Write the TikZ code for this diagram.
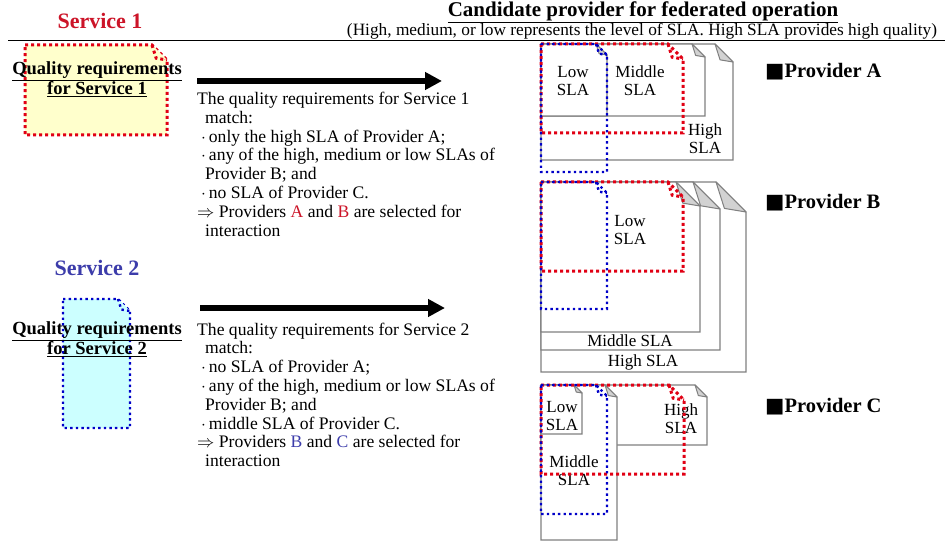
\documentclass[tikz,border=0pt]{standalone}
\usepackage{fontspec}
\setmainfont{Liberation Serif}
\newfontfamily\symfont{DejaVu Sans}
\usepackage{xcolor}
\usetikzlibrary{arrows.meta,positioning}

\definecolor{srvred}{RGB}{204,20,40}
\definecolor{dotred}{RGB}{225,0,20}
\definecolor{srvblue}{RGB}{60,60,170}
\definecolor{dotblue}{RGB}{0,0,200}
\definecolor{reqyellow}{RGB}{255,255,204}
\definecolor{reqcyan}{RGB}{204,255,255}
\definecolor{docgray}{RGB}{128,128,128}
\definecolor{flapgray}{RGB}{210,210,210}

% document with folded corner: left, top, right, bottom, fold
\newcommand{\slaDoc}[5]{%
  \draw[doc] (#1,#2) -- ({#3-#5},#2) -- (#3,{#2+#5}) -- (#3,#4) -- (#1,#4) -- cycle;
  \draw[flap] ({#3-#5},#2) -- ({#3-0.72*#5},{#2+0.88*#5}) -- (#3,{#2+#5}) -- cycle;
}
% requirement outline: style, left, top, width, height, fold
\newcommand{\reqBox}[6]{%
  \draw[#1] (#2,#3) -- ({#2+#4-#6},#3) -- ({#2+#4},{#3+#6}) -- ({#2+#4},{#3+#5}) -- (#2,{#3+#5}) -- cycle;
  \draw[#1] ({#2+#4-#6},#3) -- ({#2+#4-0.72*#6},{#3+0.88*#6}) -- ({#2+#4},{#3+#6});
}
\newcommand{\bul}{\hspace*{4pt}$\cdot$\,}

\begin{document}
\begin{tikzpicture}[x=1pt, y=-1pt,
    every node/.style={inner sep=0pt},
    doc/.style={draw=docgray, line width=1.2pt, fill=white},
    flap/.style={draw=docgray, line width=1pt, fill=flapgray, line join=round},
    reddots/.style={draw=dotred, line width=3pt, dash pattern=on 3pt off 3pt},
    bluedots/.style={draw=dotblue, line width=2.4pt, dash pattern=on 2.4pt off 3.2pt},
    bigarrow/.style={line width=5.5pt, -{Triangle[length=17pt,width=17pt]}},
    bodytext/.style={align=left, anchor=north west, font=\fontsize{17.6}{18.8}\selectfont},
    reqlabel/.style={align=center, font=\bfseries\fontsize{18.5}{19}\selectfont},
    svclabel/.style={font=\bfseries\fontsize{22}{24}\selectfont},
    provlabel/.style={anchor=west, font=\bfseries\fontsize{20.5}{22}\selectfont},
    slalabel/.style={align=center, font=\fontsize{17}{18}\selectfont}]

  \useasboundingbox (0,0) rectangle (950,548);

  % Heading
  \node[font=\bfseries\fontsize{21}{24}\selectfont] (cand) at (643,12)
    {\underline{Candidate provider for federated operation}};
  \node[font=\fontsize{17.3}{20}\selectfont] (note) at (642,31)
    {(High, medium, or low represents the level of SLA. High SLA provides high quality)};
  \coordinate (rule-l) at (8,41);
  \coordinate (rule-r) at (945,41);
  \draw[line width=1pt] (rule-l) -- (rule-r);

  % Services
  \node[svclabel, text=srvred] (svc1) at (100,21) {Service 1};
  \reqBox{reddots,fill=reqyellow}{25}{45}{142}{90}{15}
  \node[reqlabel] (req1) at (97,79) {\underline{Quality requirements}\\\underline{for Service 1}};

  \node[svclabel, text=srvblue] (svc2) at (97,268) {Service 2};
  \reqBox{bluedots,fill=reqcyan}{63}{299}{67}{129}{12}
  \node[reqlabel] (req2) at (97,339.5) {\underline{Quality requirements}\\\underline{for Service 2}};

  % Arrows
  \coordinate (arr1-from) at (197,81);
  \coordinate (arr1-to) at (442,81);
  \draw[bigarrow] (arr1-from) -- (arr1-to);
  \coordinate (arr2-from) at (200,308);
  \coordinate (arr2-to) at (445,308);
  \draw[bigarrow] (arr2-from) -- (arr2-to);

  % Matching results
  \node[bodytext] (match1) at (197,92) {%
    The quality requirements for Service 1\\
    \hspace*{8pt}match:\\
    \bul only the high SLA of Provider A;\\
    \bul any of the high, medium or low SLAs of\\
    \hspace*{8pt}Provider B; and\\
    \bul no SLA of Provider C.\\
    $\Rightarrow$ Providers \textcolor{srvred}{A} and \textcolor{srvred}{B} are selected for\\
    \hspace*{8pt}interaction};
  \node[bodytext] (match2) at (197,322.5) {%
    The quality requirements for Service 2\\
    \hspace*{8pt}match:\\
    \bul no SLA of Provider A;\\
    \bul any of the high, medium or low SLAs of\\
    \hspace*{8pt}Provider B; and\\
    \bul middle SLA of Provider C.\\
    $\Rightarrow$ Providers \textcolor{srvblue}{B} and \textcolor{srvblue}{C} are selected for\\
    \hspace*{8pt}interaction};

  % Provider A
  \slaDoc{541}{44}{733}{160}{18}
  \slaDoc{541}{44}{705}{116}{13}
  \slaDoc{541}{44}{607}{116}{11}
  \node[slalabel] (a-low) at (573,81) {Low\\SLA};
  \node[slalabel] (a-mid) at (640,81) {Middle\\SLA};
  \node[slalabel] (a-high) at (705,139) {High\\SLA};

  % Provider B
  \slaDoc{541}{182}{746}{372}{30}
  \slaDoc{541}{182}{720}{350}{27}
  \slaDoc{541}{182}{700}{332}{24}
  \node[slalabel] (b-low) at (630,230) {Low\\SLA};
  \node[slalabel] (b-mid) at (630,341) {Middle SLA};
  \node[slalabel] (b-high) at (643,362) {High SLA};

  % Provider C
  \slaDoc{541}{385}{707}{445}{12}
  \slaDoc{541}{385}{617}{540}{12}
  \slaDoc{541}{385}{582}{434}{8}
  \node[slalabel] (c-low) at (562,416) {Low\\SLA};
  \node[slalabel] (c-mid) at (574,470.5) {Middle\\SLA};
  \node[slalabel] (c-high) at (681,418.5) {High\\SLA};

  % Requirements laid over the providers
  \reqBox{reddots}{541}{44}{142}{89}{15}
  \reqBox{reddots}{541}{182}{142}{89}{15}
  \reqBox{reddots}{541}{385}{143}{89}{15}
  \reqBox{bluedots}{541}{44}{66}{128}{11}
  \reqBox{bluedots}{541}{182}{66}{127}{11}
  \reqBox{bluedots}{541}{385}{66}{129}{11}

  % Provider names
  \node[provlabel] (provA) at (765,72) {{\symfont ■}Provider A};
  \node[provlabel] (provB) at (765,203) {{\symfont ■}Provider B};
  \node[provlabel] (provC) at (765,407) {{\symfont ■}Provider C};
\end{tikzpicture}
\end{document}
